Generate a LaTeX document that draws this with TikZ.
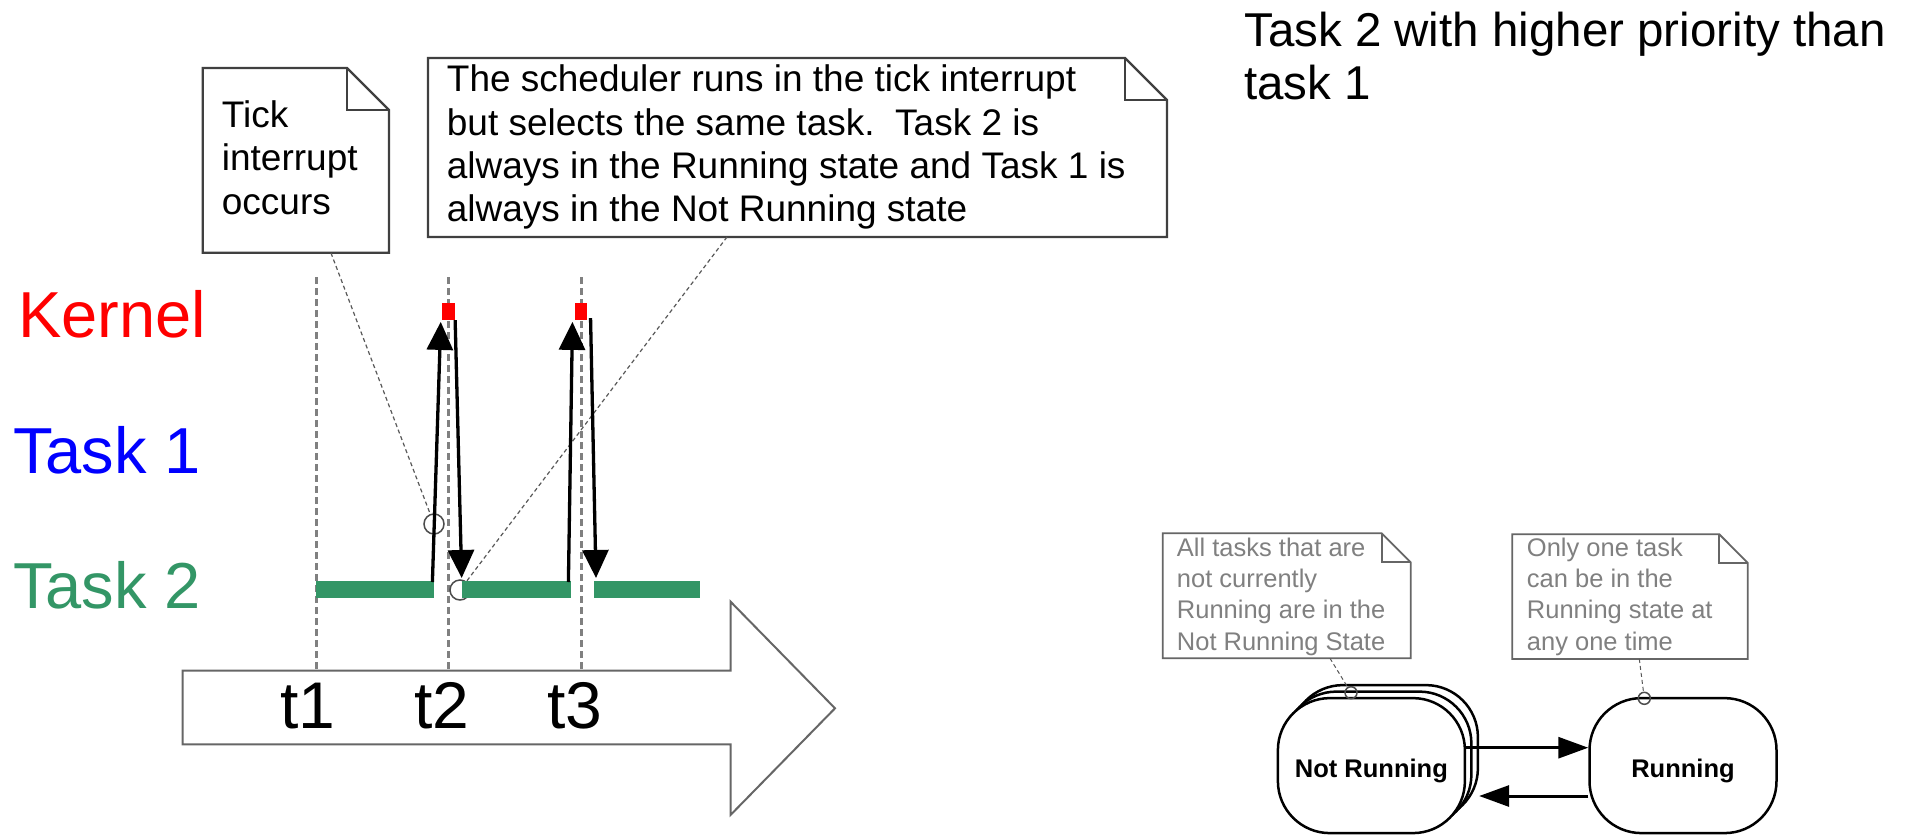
\documentclass[tikz,border=0pt]{standalone}
\usepackage{fontspec}
\setmainfont{Liberation Sans}
\usetikzlibrary{arrows.meta,calc}
\definecolor{tgreen}{RGB}{51,150,102}
\definecolor{notegray}{RGB}{128,128,128}
\begin{document}
\begin{tikzpicture}[x=1pt,y=-1pt,
  lbl/.style={anchor=base west, inner sep=0, font=\fontsize{65}{78}\selectfont},
  tlabel/.style={anchor=base, inner sep=0, font=\fontsize{66}{78}\selectfont},
  notetxt/.style={anchor=base west, inner sep=0, font=\fontsize{37}{44}\selectfont},
  smalltxt/.style={anchor=base west, inner sep=0, text=notegray, font=\fontsize{25.5}{31}\selectfont},
  titletxt/.style={anchor=base west, inner sep=0, font=\fontsize{47.5}{53}\selectfont},
  vline/.style={draw=gray, line width=3, dash pattern=on 7pt off 4pt},
  barbox/.style={fill=tgreen, draw=none, inner sep=0, minimum height=16.6, anchor=north west},
  kbox/.style={fill=red, draw=none, minimum width=12.7, minimum height=17, inner sep=0},
  schedarrow/.style={line width=3.3, -{Triangle[length=28pt,width=26pt]}},
  callout/.style={draw=black!65, line width=1.2, dash pattern=on 4pt off 3pt},
  callcircle/.style={circle, draw=black!70, line width=1.5, inner sep=0},
  noteline/.style={draw=black!75, line width=2.2, line join=miter},
  snoteline/.style={draw=black!60, line width=1.8, line join=miter},
  state/.style={draw=black, line width=2.5, fill=white, rounded corners=52, minimum width=187, minimum height=135, inner sep=0, font=\bfseries\fontsize{25.5}{30}\selectfont},
  sarrow/.style={line width=3, -{Triangle[length=30pt,width=21pt]}}
]
\clip (0,0) rectangle (1909,836);
\fill[white] (0,0) rectangle (1909,836);

% row labels
\node[lbl, text=red] (kernel) at (18,337) {Kernel};
\node[lbl, text=blue] (task1) at (13,473) {Task 1};
\node[lbl, text=tgreen] (task2) at (13,608) {Task 2};

% title
\node[titletxt] (title1) at (1244,46) {Task 2 with higher priority than};
\node[titletxt] (title2) at (1244,99.3) {task 1};

% time arrow
\draw[draw=black!60, line width=2, fill=white, line join=miter]
  (182.6,670.7) -- (730.5,670.7) -- (730.5,601.6) -- (835,708.3) -- (730.5,815) -- (730.5,744.3) -- (182.6,744.3) -- cycle;
\node[tlabel] (t1) at (308,728.3) {t1};
\node[tlabel] (t2) at (442,728.3) {t2};
\node[tlabel] (t3) at (575,728.3) {t3};

% vertical dashed time lines
\coordinate (l1top) at (316,277);
\coordinate (l2top) at (448,277);
\coordinate (l3top) at (581.7,277);
\draw[vline] (l1top) -- (l1top |- 0,671);
\draw[vline] (l2top) -- (l2top |- 0,671);
\draw[vline] (l3top) -- (l3top |- 0,671);

% notes (timeline)
\path[noteline, fill=white] (202.7,68) -- (347,68) -- (389,110) -- (389,252.7) -- (202.7,252.7) -- cycle;
\draw[noteline] (347,68) -- (347,110) -- (389,110);
\node[notetxt] (tick1) at (221.7,127) {Tick};
\node[notetxt] (tick2) at (221.7,170.5) {interrupt};
\node[notetxt] (tick3) at (221.7,214) {occurs};

\path[noteline, fill=white] (428,58) -- (1125,58) -- (1167,100) -- (1167,237) -- (428,237) -- cycle;
\draw[noteline] (1125,58) -- (1125,100) -- (1167,100);
\node[notetxt] (sch1) at (446.7,91.7) {The scheduler runs in the tick interrupt};
\node[notetxt] (sch2) at (446.7,135) {but selects the same task.\ \ Task 2 is};
\node[notetxt] (sch3) at (446.7,178.3) {always in the Running state and Task 1 is};
\node[notetxt] (sch4) at (446.7,221.7) {always in the Not Running state};

% callouts (timeline)
\coordinate (tickfoot) at (331,253);
\coordinate (schfoot) at (727,237);
\node[callcircle, minimum size=20] (c1) at (434,524) {};
\node[callcircle, minimum size=20] (c2) at (460,590) {};
\draw[callout] (tickfoot) -- (c1);
\draw[callout] (schfoot) -- (c2);

% Task 2 running bars
\node[barbox, minimum width=118] (b1) at (316,580.7) {};
\node[barbox, minimum width=109.3] (b2) at (461.7,580.7) {};
\node[barbox, minimum width=106] (b3) at (594,580.7) {};

% kernel slices
\node[kbox] (k1) at (448.6,311.5) {};
\node[kbox] (k2) at (581,311.5) {};

% context switch arrows
\draw[schedarrow] ($(b1.north east)+(-2,1.3)$) -- ($(k1.south west)+(-1.3,1.7)$);
\draw[schedarrow] ($(k1.south east)+(0,0)$) -- ($(b2.north west)+(0,-2.7)$);
\draw[schedarrow] ($(b2.north east)+(-3,1.3)$) -- ($(k2.south west)+(-2,1.7)$);
\draw[schedarrow] ($(k2.south east)+(3,-2)$) -- ($(b3.north west)+(2,-2.7)$);

% state diagram
\node[state] (nr3) at (1384.4,752.6) {};
\node[state] (nr2) at (1377.9,759.1) {};
\node[state] (nr) at (1371.4,765.6) {\raisebox{-11.5pt}[0pt][0pt]{Not Running}};
\node[state] (run) at (1683,765.6) {\raisebox{-11.5pt}[0pt][0pt]{Running}};
\coordinate (ya) at (0,747.7);
\coordinate (yb) at (0,796);
\draw[sarrow] (nr.east |- ya) -- (run.west |- ya);
\draw[sarrow] (run.west |- yb) -- (nr3.east |- yb);

% state notes
\path[snoteline, fill=white] (1162.7,533.3) -- (1381.7,533.3) -- (1410.7,562.3) -- (1410.7,658.3) -- (1162.7,658.3) -- cycle;
\draw[snoteline] (1381.7,533.3) -- (1381.7,562.3) -- (1410.7,562.3);
\node[smalltxt] (na1) at (1176.7,556) {All tasks that are};
\node[smalltxt] (na2) at (1176.7,587.3) {not currently};
\node[smalltxt] (na3) at (1176.7,618.6) {Running are in the};
\node[smalltxt] (na4) at (1176.7,650) {Not Running State};

\path[snoteline, fill=white] (1512.3,534.3) -- (1719.3,534.3) -- (1747.7,562.8) -- (1747.7,659) -- (1512.3,659) -- cycle;
\draw[snoteline] (1719.3,534.3) -- (1719.3,562.8) -- (1747.7,562.8);
\node[smalltxt] (nb1) at (1526.7,556) {Only one task};
\node[smalltxt] (nb2) at (1526.7,587.3) {can be in the};
\node[smalltxt] (nb3) at (1526.7,618.6) {Running state at};
\node[smalltxt] (nb4) at (1526.7,650) {any one time};

\coordinate (nafoot) at (1330,658.3);
\coordinate (nbfoot) at (1639.3,659);
\node[callcircle, minimum size=12] (c3) at (1351,692.7) {};
\node[callcircle, minimum size=12] (c4) at (1644.3,698.3) {};
\draw[callout, line width=1] (nafoot) -- (c3);
\draw[callout, line width=1] (nbfoot) -- (c4);
\end{tikzpicture}
\end{document}
